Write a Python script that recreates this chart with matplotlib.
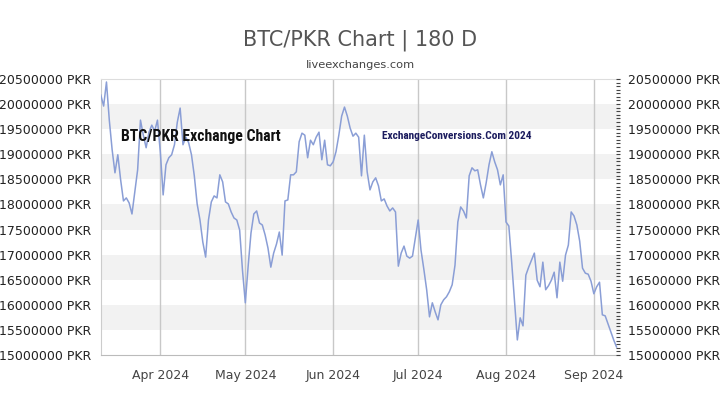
import matplotlib
matplotlib.use("Agg")
import matplotlib.pyplot as plt
import matplotlib.ticker as ticker
import numpy as np
import pandas as pd

# daily BTC/PKR close, in millions of PKR, starting 2024-03-11
start_date = "2024-03-11"
btc_pkr_m = [
    20.18, 19.96, 20.44, 19.68, 19.09, 18.63, 18.99, 18.49, 18.07, 18.13,
    18.03, 17.81, 18.25, 18.69, 19.68, 19.38, 19.13, 19.44, 19.58, 19.46,
    19.68, 19.05, 18.19, 18.79, 18.93, 18.99, 19.19, 19.64, 19.92, 19.19,
    19.34, 19.23, 18.99, 18.57, 18.01, 17.69, 17.25, 16.95, 17.69, 18.05,
    18.17, 18.13, 18.59, 18.45, 18.05, 18.01, 17.85, 17.73, 17.69, 17.49,
    16.69, 16.04, 16.77, 17.43, 17.81, 17.87, 17.63, 17.59, 17.39, 17.13,
    16.75, 17.03, 17.21, 17.45, 16.99, 18.07, 18.09, 18.59, 18.59, 18.65,
    19.25, 19.42, 19.38, 18.93, 19.28, 19.19, 19.34, 19.44, 18.89, 19.28,
    18.79, 18.77, 18.85, 19.05, 19.38, 19.76, 19.94, 19.76, 19.52, 19.36,
    19.42, 19.34, 18.57, 19.38, 18.65, 18.29, 18.45, 18.53, 18.37, 18.07,
    18.11, 17.97, 17.87, 17.93, 17.85, 16.77, 17.03, 17.17, 16.97, 16.93,
    16.97, 17.33, 17.69, 17.09, 16.71, 16.30, 15.76, 16.04, 15.86, 15.70,
    16.00, 16.10, 16.16, 16.26, 16.40, 16.79, 17.65, 17.95, 17.87, 17.73,
    18.57, 18.73, 18.67, 18.69, 18.39, 18.13, 18.43, 18.79, 19.05, 18.85,
    18.69, 18.39, 18.59, 17.65, 17.57, 16.85, 16.06, 15.30, 15.74, 15.58,
    16.59, 16.75, 16.89, 17.03, 16.49, 16.36, 16.85, 16.30, 16.38, 16.49,
    16.65, 16.14, 16.85, 16.47, 16.99, 17.19, 17.85, 17.77, 17.59, 17.27,
    16.73, 16.63, 16.61, 16.47, 16.22, 16.36, 16.45, 15.80, 15.78, 15.62,
    15.46, 15.30, 15.16,
]
y_ticks = list(range(15000000, 20500001, 500000))
month_ticks = ["2024-04-01", "2024-05-01", "2024-06-01",
               "2024-07-01", "2024-08-01", "2024-09-01"]
month_labels = ["Apr 2024", "May 2024", "Jun 2024",
                "Jul 2024", "Aug 2024", "Sep 2024"]

dates = pd.date_range(start_date, periods=len(btc_pkr_m), freq="D")
prices = np.array(btc_pkr_m) * 1e6

narrow = ["Roboto Condensed", "Noto Sans Condensed", "Open Sans Condensed",
          "DejaVu Sans Condensed", "Liberation Sans Narrow", "Noto Sans", "DejaVu Sans"]

fig = plt.figure(figsize=(7.2, 4.05), dpi=100)
ax = fig.add_axes([0.14, 0.1235, 0.721, 0.6815])

# alternating grey bands
for lo in range(15500000, 19500001, 1000000):
    ax.axhspan(lo, lo + 500000, color="#f2f2f2", lw=0, zorder=0)

ax.plot(dates, prices, color="#8a9ed6", lw=1.1, zorder=3)

ax.set_ylim(15000000, 20500000)
ax.set_xlim(dates[0], dates[-1] + pd.Timedelta(days=1.2))
ax.set_yticks(y_ticks)
ax.yaxis.set_major_formatter(ticker.FuncFormatter(lambda v, p: f"{v:.0f} PKR"))
ax.set_xticks(pd.to_datetime(month_ticks))
ax.set_xticklabels(month_labels)
ax.grid(axis="x", color="#c8c8c8", lw=1, zorder=1)
ax.tick_params(axis="x", length=0, pad=10, labelsize=9, labelcolor="#444444")
ax.tick_params(axis="y", length=0, pad=7, labelsize=9, labelcolor="#222222")

for side, col in [("left", "#cccccc"), ("top", "#dddddd"), ("bottom", "#bbbbbb")]:
    ax.spines[side].set_color(col)
ax.spines["right"].set_visible(False)

ax2 = ax.twinx()
ax2.set_ylim(ax.get_ylim())
ax2.set_yticks(y_ticks)
ax2.yaxis.set_major_formatter(ticker.FuncFormatter(lambda v, p: f"{v:.0f} PKR"))
ax2.yaxis.set_minor_locator(ticker.MultipleLocator(500000 / 7))
ax2.tick_params(axis="y", which="major", direction="in", length=3, width=0.8,
                color="#444444", pad=6, labelsize=9, labelcolor="#222222")
ax2.tick_params(axis="y", which="minor", direction="in", length=3, width=0.8,
                color="#444444")
for s in ax2.spines.values():
    s.set_visible(False)

fig.text(0.5, 0.9, "BTC/PKR Chart | 180 D", ha="center", va="center",
         fontsize=15, color="#555555")
fig.text(0.5, 0.84, "liveexchanges.com", ha="center", va="center",
         fontsize=8.2, color="#444444")

ax.text(0.039, 0.793, "BTC/PKR Exchange Chart", transform=ax.transAxes,
        ha="left", va="center", fontsize=11.3, fontweight="bold", fontstretch="condensed",
        family=narrow, color="#111111", zorder=4)
ax.text(0.542, 0.793, "ExchangeConversions.Com 2024", transform=ax.transAxes,
        ha="left", va="center", fontsize=8.2, fontweight="bold", fontstretch="condensed",
        family=narrow, color="#1c1c5e", zorder=4)

fig.savefig("out.png", dpi=100, facecolor="white")
